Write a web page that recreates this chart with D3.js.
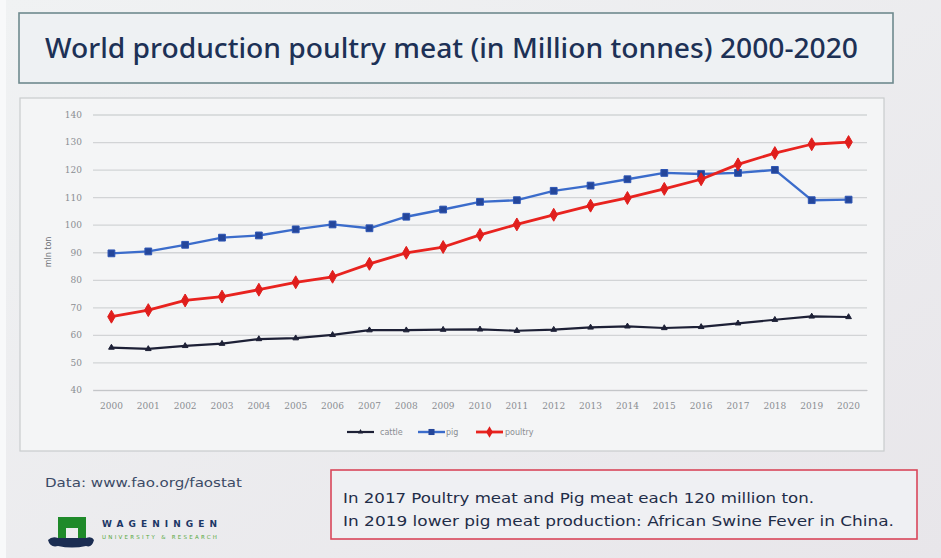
<!DOCTYPE html>
<html>
<head>
<meta charset="utf-8">
<script src="https://cdn.jsdelivr.net/npm/d3@7"></script>
<style>
  html, body { margin: 0; padding: 0; background: #eceef0; }
  svg { display: block; }
</style>
</head>
<body>
<svg id="chart" width="941" height="558"></svg>
<script>
// World meat production, million tonnes, 2000-2020
const years = ["2000","2001","2002","2003","2004","2005","2006","2007","2008","2009","2010",
               "2011","2012","2013","2014","2015","2016","2017","2018","2019","2020"];
const cattle  = [55.4, 54.9, 56.0, 56.8, 58.5, 58.8, 60.0, 61.7, 61.7, 61.9, 62.0,
                 61.5, 61.9, 62.7, 63.1, 62.5, 62.9, 64.2, 65.5, 66.7, 66.5];
const pig     = [89.6, 90.3, 92.7, 95.3, 96.1, 98.3, 100.1, 98.7, 102.9, 105.5, 108.3,
                 108.9, 112.3, 114.2, 116.5, 118.8, 118.4, 118.8, 119.9, 108.9, 109.1];
const poultry = [66.6, 69.0, 72.5, 73.9, 76.4, 79.1, 81.1, 85.8, 89.8, 91.9, 96.3,
                 100.1, 103.6, 106.9, 109.7, 113.0, 116.5, 121.9, 126.0, 129.2, 130.0];
const yTicks = [40, 50, 60, 70, 80, 90, 100, 110, 120, 130, 140];
const seriesNames = ["cattle", "pig", "poultry"];

const titleText = "World production poultry meat (in Million tonnes) 2000-2020";
const sourceText = "Data: www.fao.org/faostat";
const noteLines = [
  "In 2017 Poultry meat and Pig meat each 120 million ton.",
  "In 2019 lower pig meat production: African Swine Fever in China."
];
const noteWidths = [471, 551];

const svg = d3.select("#chart");
const sans = "Verdana, 'DejaVu Sans', 'Noto Sans', sans-serif";

// slide background
const defs = svg.append("defs");
const bg = defs.append("linearGradient").attr("id", "bg").attr("x1", 0).attr("x2", 1).attr("y1", 0).attr("y2", 1);
bg.append("stop").attr("offset", 0).attr("stop-color", "#f0f2f3");
bg.append("stop").attr("offset", 1).attr("stop-color", "#e8e6ea");
svg.append("rect").attr("width", 941).attr("height", 558).attr("fill", "url(#bg)");
svg.append("rect").attr("width", 6).attr("height", 558).attr("fill", "#f8f9fa");

// title box
svg.append("rect").attr("x", 19).attr("y", 13).attr("width", 874).attr("height", 70)
  .attr("fill", "#eef1f3").attr("stroke", "#6f8a8e").attr("stroke-width", 1.6);
svg.append("text").attr("x", 45).attr("y", 58)
  .attr("font-family", "'Noto Sans', 'Open Sans', sans-serif")
  .attr("font-size", 27).attr("font-weight", 500).attr("fill", "#1d3156")
  .attr("textLength", 813).attr("lengthAdjust", "spacingAndGlyphs")
  .text(titleText);

// chart box
svg.append("rect").attr("x", 20).attr("y", 98).attr("width", 864).attr("height", 353)
  .attr("fill", "#f4f5f6").attr("stroke", "#c9cccd").attr("stroke-width", 1.2);

const plot = { left: 93, right: 867, top: 114.5, bottom: 390 };

const x = d3.scaleBand().domain(years).range([plot.left, plot.right]).padding(0);
const y = d3.scaleLinear().domain([40, 140]).range([plot.bottom, plot.top]);
const cx = d => x(d) + x.bandwidth() / 2;

// gridlines + y labels
const yAxis = svg.append("g").attr("transform", `translate(${plot.left},0)`)
  .call(d3.axisLeft(y).tickValues(yTicks).tickSize(-(plot.right - plot.left)).tickPadding(11));
yAxis.select(".domain").remove();
yAxis.selectAll(".tick line").attr("stroke", "#d2d4d6").attr("stroke-width", 1.3);
yAxis.selectAll(".tick text").attr("fill", "#8a8d92").attr("font-size", 9)
  .attr("font-family", "'DejaVu Serif', 'Liberation Serif', serif");

// x labels
const xAxis = svg.append("g").attr("transform", `translate(0,${plot.bottom})`)
  .call(d3.axisBottom(x).tickSize(0).tickPadding(13));
xAxis.select(".domain").attr("stroke", "#c4c6c9").attr("stroke-width", 1.2);
xAxis.selectAll(".tick text").attr("fill", "#8a8d92").attr("font-size", 9)
  .attr("font-family", "'DejaVu Serif', 'Liberation Serif', serif");

// y axis title
svg.append("text").attr("transform", "translate(51,252) rotate(-90)")
  .attr("text-anchor", "middle").attr("font-size", 8).attr("fill", "#6d7075")
  .attr("font-family", sans).text("mln ton");

// series
const series = [
  { name: "cattle",  values: cattle,  color: "#1d2036", mfill: "#1d2036", shape: d3.symbolTriangle, size: 14, width: 2.2 },
  { name: "pig",     values: pig,     color: "#3b6ccb", mfill: "#24469a", shape: d3.symbolSquare,   size: 46, width: 2.4 },
  { name: "poultry", values: poultry, color: "#e8231f", mfill: "#e01e1c", shape: d3.symbolDiamond,  size: 48, width: 2.8 }
];

const line = d3.line().x((d, i) => cx(years[i])).y(d => y(d));

series.forEach(s => {
  svg.append("path").datum(s.values).attr("d", line)
    .attr("fill", "none").attr("stroke", s.color).attr("stroke-width", s.width)
    .attr("stroke-linejoin", "round");
  svg.append("g").selectAll("path").data(s.values).join("path")
    .attr("transform", (d, i) => `translate(${cx(years[i])},${y(d)})`)
    .attr("d", d3.symbol(s.shape, s.size))
    .attr("fill", s.mfill)
    .attr("stroke", s.name === "pig" ? "#2d55b4" : s.mfill).attr("stroke-width", 1);
});

// legend
const legendPos = [
  { lx: 347, tx: 380 },
  { lx: 418, tx: 446 },
  { lx: 476, tx: 505 }
];
const legend = svg.append("g");
series.forEach((s, i) => {
  const p = legendPos[i];
  const g = legend.append("g");
  g.append("line").attr("x1", p.lx).attr("x2", p.lx + 27).attr("y1", 432).attr("y2", 432)
    .attr("stroke", s.color).attr("stroke-width", s.width);
  g.append("path").attr("transform", `translate(${p.lx + 13.5},432)`)
    .attr("d", d3.symbol(s.shape, s.size * 0.8)).attr("fill", s.mfill);
  g.append("text").attr("x", p.tx).attr("y", 435).attr("font-size", 8)
    .attr("fill", "#8a8d92").attr("font-family", sans)
    .text(seriesNames[i]);
});

// source
svg.append("text").attr("x", 45).attr("y", 487)
  .attr("font-family", sans).attr("font-size", 13)
  .attr("textLength", 197).attr("lengthAdjust", "spacingAndGlyphs")
  .attr("fill", "#3b4a66").text(sourceText);

// university logo
const logo = svg.append("g");
logo.append("path")
  .attr("d", "M58,517 H86 V539 H78 V528 H66 V539 H58 Z")
  .attr("fill", "#1f8a2a");
logo.append("path")
  .attr("d", "M48,540 Q52,536 58,538 H86 Q92,536 94,540 Q92,548 86,546 Q72,549 58,546 Q50,548 48,540 Z")
  .attr("fill", "#1b2d52");
logo.append("text").attr("x", 102).attr("y", 527)
  .attr("font-family", sans).attr("font-weight", "bold")
  .attr("font-size", 9).attr("fill", "#1c3766")
  .attr("textLength", 115).attr("lengthAdjust", "spacing")
  .text("WAGENINGEN");
logo.append("text").attr("x", 102).attr("y", 539)
  .attr("font-family", sans)
  .attr("font-size", 5.5).attr("fill", "#56a83c")
  .attr("textLength", 115).attr("lengthAdjust", "spacing")
  .text("UNIVERSITY & RESEARCH");

// note box
svg.append("rect").attr("x", 331).attr("y", 470).attr("width", 586).attr("height", 69)
  .attr("fill", "#eff0f3").attr("stroke", "#d9475a").attr("stroke-width", 1.6);
noteLines.forEach((t, i) => {
  svg.append("text").attr("x", 343).attr("y", 503 + i * 23)
    .attr("font-family", sans).attr("font-size", 14.5)
    .attr("textLength", noteWidths[i]).attr("lengthAdjust", "spacingAndGlyphs")
    .attr("fill", "#1f2d48").text(t);
});
</script>
</body>
</html>
